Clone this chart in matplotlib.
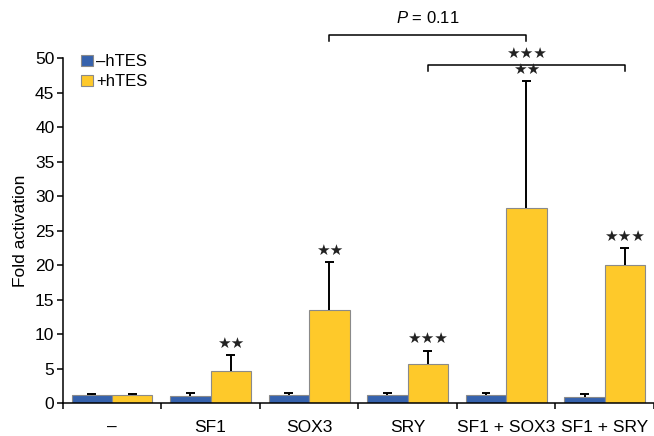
import numpy as np
import matplotlib
matplotlib.use("Agg")
import matplotlib.pyplot as plt

plt.rcParams["font.family"] = ["Liberation Sans", "DejaVu Sans"]
plt.rcParams["mathtext.fontset"] = "custom"
plt.rcParams["mathtext.it"] = "Liberation Sans:italic"
plt.rcParams["mathtext.rm"] = "Liberation Sans"

# Data
categories = ["\u2013", "SF1", "SOX3", "SRY", "SF1 + SOX3", "SF1 + SRY"]
minus_htes = [1.15, 1.0, 1.15, 1.15, 1.15, 0.8]
minus_err = [0.1, 0.45, 0.25, 0.25, 0.25, 0.5]
plus_htes = [1.1, 4.7, 13.5, 5.6, 28.3, 20.0]
plus_err = [0.25, 2.3, 6.9, 2.0, 18.4, 2.5]
plus_stars = ["", "\u2605\u2605", "\u2605\u2605", "\u2605\u2605\u2605", "\u2605\u2605", "\u2605\u2605\u2605"]

blue = "#3662ad"
yellow = "#fec92a"
edge = "#8a8a8a"
star_size = 11

fig = plt.figure(figsize=(6.54, 4.36), dpi=100)
ax = fig.add_axes([0.096, 0.0757, 0.904, 0.791])

x = np.arange(len(categories)) + 0.5
w = 0.41
cap = 0.045

ax.bar(x - w / 2, minus_htes, w, color=blue, edgecolor=edge, linewidth=0.8, label="\u2013hTES", zorder=2)
ax.bar(x + w / 2, plus_htes, w, color=yellow, edgecolor=edge, linewidth=0.8, label="+hTES", zorder=2)

# upper-only error bars
for xs, vals, errs in [(x - w / 2, minus_htes, minus_err), (x + w / 2, plus_htes, plus_err)]:
    tops = np.array(vals) + np.array(errs)
    ax.vlines(xs, vals, tops, color="black", lw=1.4, zorder=3)
    ax.hlines(tops, xs - cap, xs + cap, color="black", lw=1.4, zorder=3)

for xi, v, e, s in zip(x + w / 2, plus_htes, plus_err, plus_stars):
    if s:
        ax.annotate(s, (xi, v + e), xytext=(0, 3), textcoords="offset points",
                    ha="center", va="bottom", fontsize=star_size, color="#222222",
                    annotation_clip=False)

# Comparison brackets
def bracket(i, j, y, h):
    x1, x2 = x[i] + w / 2, x[j] + w / 2
    ax.plot([x1, x1, x2, x2], [y - h, y, y, y - h], color="black", lw=1.1, clip_on=False)

bracket(2, 4, 53.4, 0.9)
ax.text((x[2] + x[4]) / 2 + w / 2, 54.6, "$P$ = 0.11", ha="center", va="bottom", fontsize=12)
bracket(3, 5, 49.0, 0.8)
ax.text(x[4] + w / 2, 49.6, "\u2605\u2605\u2605", ha="center", va="bottom",
        fontsize=star_size, color="#222222")

ax.set_xlim(0, len(categories))
ax.set_ylim(0, 50)
ax.set_xticks(np.arange(len(categories) + 1))
ax.set_xticklabels([])
ax.set_xticks(x, minor=True)
ax.set_xticklabels(categories, minor=True, fontsize=12.5)
ax.tick_params(axis="x", which="minor", length=0, pad=12)
ax.tick_params(axis="x", which="major", length=4, width=1.1)
ax.set_yticks(np.arange(0, 51, 5))
ax.tick_params(axis="y", labelsize=12.5, length=4, width=1.1, pad=2)
ax.set_ylabel("Fold activation", fontsize=12.5, labelpad=5)

for s in ["top", "right"]:
    ax.spines[s].set_visible(False)
for s in ["left", "bottom"]:
    ax.spines[s].set_linewidth(1.1)

ax.legend(loc="upper left", bbox_to_anchor=(0.02, 1.03), frameon=False, fontsize=12,
          handlelength=0.7, handleheight=0.7, handletextpad=0.2, labelspacing=0.3,
          borderaxespad=0)

fig.savefig("out.png", dpi=100)
